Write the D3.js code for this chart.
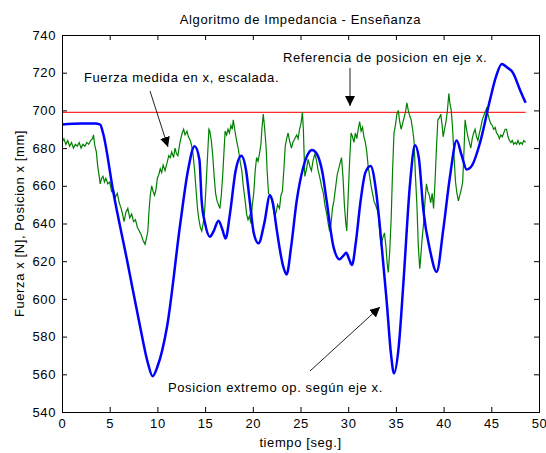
<!DOCTYPE html>
<html>
<head>
<meta charset="utf-8">
<script src="https://cdn.jsdelivr.net/npm/d3@7"></script>
<style>
  body { margin: 0; background: #fff; }
  text { font-family: "Liberation Sans", Arial, sans-serif; font-size: 13px; letter-spacing: 0.6px; fill: #000; }
</style>
</head>
<body>
<script>
// posicion extremo op. (azul)
var posicion = [
  [0, 692.5], [2, 693], [3.5, 693], [4.0, 692.5], [4.3, 688], [5.4, 656], [6.8, 621], [8.2, 585],
  [9.0, 566], [9.5, 559], [10.0, 564], [11.0, 585], [12.4, 640], [13.2, 668], [13.9, 681], [14.4, 674],
  [14.64, 652], [15.0, 640], [15.5, 633], [15.9, 636], [16.4, 641.5], [16.8, 637], [17.15, 632],
  [17.6, 645], [18.2, 668], [18.8, 676], [19.3, 668], [19.7, 651], [20.1, 635], [20.6, 629.5],
  [21.2, 640], [21.8, 655], [22.1, 651], [22.5, 637], [23.2, 617], [23.55, 613], [24.0, 627],
  [24.6, 652], [25.3, 670], [25.8, 677], [26.2, 679], [26.7, 677], [27.3, 667], [27.74, 652],
  [28.44, 628], [29.1, 621], [29.5, 623], [29.8, 624.5], [30.1, 621], [30.4, 618], [30.8, 630],
  [31.3, 652], [31.8, 667], [32.35, 670.5], [32.9, 658], [33.33, 638], [34.03, 599], [34.5, 570],
  [34.8, 560.5], [35.3, 575], [35.78, 608], [36.48, 661], [37.0, 681.5], [37.4, 675], [37.88, 647],
  [38.57, 626], [39.27, 614.4], [39.97, 637], [40.67, 665], [41.37, 684], [41.9, 676], [42.42, 668.7],
  [43.0, 671], [43.8, 682.5], [44.86, 705.5], [45.5, 718], [46.1, 724.6], [46.6, 723], [47.3, 719.7],
  [48.0, 711], [48.6, 704]
];

// fuerza medida en x, escalada (verde)
var fuerza = [
  [0.0, 683], [0.2, 685], [0.4, 682], [0.6, 684], [0.8, 681], [1.0, 683], [1.2, 680], [1.4, 682],
  [1.6, 681], [1.8, 683], [2.0, 680], [2.2, 682], [2.4, 681], [2.6, 683], [2.8, 682], [3.0, 684],
  [3.2, 685], [3.3, 687], [3.45, 681], [3.6, 678], [3.75, 670], [3.9, 665], [4.0, 661], [4.15, 664],
  [4.3, 665], [4.45, 662], [4.6, 664], [4.8, 661], [5.0, 662], [5.2, 657], [5.4, 658], [5.6, 654],
  [5.8, 656], [6.0, 651], [6.2, 648], [6.35, 645], [6.5, 641], [6.7, 646], [6.9, 648], [7.1, 643],
  [7.3, 645], [7.5, 641], [7.7, 642], [7.9, 638], [8.1, 636], [8.3, 634], [8.5, 631], [8.7, 629],
  [8.85, 632], [9.0, 636], [9.1, 645], [9.25, 655], [9.4, 660], [9.55, 657], [9.7, 655], [9.85, 658],
  [10.0, 664], [10.15, 666], [10.3, 669], [10.45, 667], [10.6, 671], [10.8, 668], [11.0, 672],
  [11.2, 676], [11.35, 675], [11.5, 678], [11.7, 675], [11.85, 680], [12.0, 677], [12.15, 676],
  [12.3, 681], [12.45, 685], [12.6, 688], [12.75, 690], [12.9, 687], [13.1, 689], [13.25, 686],
  [13.45, 684], [13.6, 681], [13.75, 676], [13.9, 668], [14.05, 658], [14.2, 648], [14.35, 642],
  [14.5, 638], [14.65, 636], [14.8, 640], [14.95, 646], [15.1, 660], [15.25, 675], [15.4, 690],
  [15.5, 689], [15.65, 684], [15.8, 676], [15.95, 665], [16.1, 656], [16.25, 652], [16.4, 650],
  [16.55, 648], [16.7, 655], [16.85, 666], [17.0, 680], [17.1, 689], [17.25, 687], [17.4, 690],
  [17.55, 688], [17.7, 692], [17.85, 690], [17.95, 695], [18.1, 690], [18.3, 684], [18.5, 679],
  [18.7, 672], [18.85, 668], [19.0, 660], [19.2, 652], [19.35, 645], [19.5, 642], [19.65, 644],
  [19.8, 640], [19.95, 650], [20.1, 656], [20.25, 668], [20.4, 675], [20.55, 673], [20.7, 677],
  [20.85, 682], [20.95, 690], [21.1, 698], [21.25, 690], [21.4, 680], [21.5, 668], [21.65, 656],
  [21.8, 655], [22.0, 652], [22.15, 648], [22.3, 644], [22.45, 646], [22.6, 650], [22.8, 648],
  [22.95, 655], [23.1, 657], [23.25, 668], [23.4, 681], [23.55, 685], [23.7, 688], [23.85, 684],
  [24.05, 680], [24.2, 683], [24.4, 685], [24.6, 687], [24.75, 685], [24.9, 690], [25.05, 693],
  [25.2, 699], [25.3, 690], [25.45, 665], [25.6, 668], [25.8, 674], [26.0, 670], [26.15, 668],
  [26.3, 673], [26.5, 677], [26.65, 674], [26.85, 668], [27.0, 665], [27.2, 660], [27.4, 656],
  [27.55, 650], [27.75, 645], [27.9, 640], [28.05, 636], [28.2, 640], [28.35, 648], [28.5, 652],
  [28.7, 660], [28.85, 666], [29.0, 669], [29.15, 672], [29.3, 675], [29.45, 665], [29.6, 650],
  [29.75, 640], [29.85, 636], [30.0, 655], [30.15, 673], [30.3, 688], [30.45, 686], [30.6, 683],
  [30.75, 688], [30.9, 685], [31.05, 690], [31.2, 694], [31.35, 689], [31.5, 691], [31.65, 686],
  [31.8, 683], [31.95, 678], [32.1, 670], [32.25, 665], [32.4, 660], [32.55, 656], [32.7, 652],
  [32.85, 650], [33.0, 648], [33.15, 645], [33.3, 636], [33.45, 628], [33.6, 632], [33.8, 635],
  [33.95, 628], [34.1, 618], [34.2, 614], [34.35, 625], [34.5, 642], [34.65, 668], [34.8, 688],
  [34.95, 692], [35.1, 698], [35.25, 700], [35.4, 694], [35.55, 690], [35.7, 693], [35.85, 696],
  [36.0, 699], [36.15, 704], [36.3, 700], [36.45, 697], [36.6, 695], [36.75, 690], [36.9, 684],
  [37.05, 665], [37.2, 650], [37.35, 628], [37.5, 616], [37.6, 622], [37.75, 632], [37.9, 640],
  [38.05, 652], [38.2, 661], [38.35, 657], [38.5, 655], [38.65, 651], [38.8, 656], [38.95, 648],
  [39.1, 662], [39.25, 680], [39.4, 695], [39.55, 696], [39.7, 698], [39.85, 692], [39.95, 686],
  [40.1, 690], [40.25, 694], [40.4, 700], [40.55, 709], [40.65, 704], [40.8, 700], [40.95, 690],
  [41.1, 675], [41.25, 662], [41.4, 656], [41.55, 652], [41.7, 655], [41.85, 658], [42.0, 662],
  [42.15, 680], [42.25, 695], [42.4, 690], [42.55, 686], [42.7, 683], [42.85, 680], [43.0, 685],
  [43.15, 688], [43.3, 690], [43.45, 686], [43.6, 684], [43.75, 688], [43.9, 691], [44.05, 695],
  [44.2, 697], [44.35, 699], [44.5, 701], [44.65, 698], [44.8, 695], [44.95, 693], [45.1, 692],
  [45.25, 690], [45.4, 691], [45.55, 688], [45.7, 687], [45.85, 685], [46.0, 687], [46.15, 686],
  [46.3, 688], [46.45, 690], [46.6, 690], [46.75, 686], [46.9, 684], [47.05, 683], [47.2, 684],
  [47.35, 682], [47.5, 683], [47.65, 682], [47.8, 684], [47.95, 682], [48.1, 683], [48.25, 682],
  [48.4, 684], [48.6, 683]
];

// referencia (rojo)
var referencia = [[0, 699], [48.6, 699]];

var xTicks = [0, 5, 10, 15, 20, 25, 30, 35, 40, 45, 50];
var yTicks = [540, 560, 580, 600, 620, 640, 660, 680, 700, 720, 740];

window.onload = setChart;

function setChart(){

    var width = 546,
        height = 453;

    var left = 62, right = 539, top = 35, bottom = 412;

    var svg = d3.select("body")
        .append("svg")
        .attr("width", width)
        .attr("height", height);

    var x = d3.scaleLinear().domain([0, 50]).range([left, right]);
    var y = d3.scaleLinear().domain([540, 740]).range([bottom, top]);

    var defs = svg.append("defs");
    defs.append("clipPath").attr("id", "clip")
        .append("rect")
        .attr("x", left).attr("y", top)
        .attr("width", right - left).attr("height", bottom - top);
    defs.append("marker")
        .attr("id", "head")
        .attr("viewBox", "0 0 10 10")
        .attr("refX", 10).attr("refY", 5)
        .attr("markerWidth", 10).attr("markerHeight", 10)
        .attr("markerUnits", "userSpaceOnUse")
        .attr("orient", "auto")
        .append("path")
        .attr("d", "M0,0L10,5L0,10Z")
        .attr("fill", "#000");

    var line = d3.line()
        .x(function(d){ return x(d[0]); })
        .y(function(d){ return y(d[1]); });

    var plot = svg.append("g").attr("clip-path", "url(#clip)");

    plot.append("path")
        .datum(referencia)
        .attr("d", line)
        .attr("fill", "none")
        .attr("stroke", "#ff2a2a")
        .attr("stroke-width", 1.2);

    plot.append("path")
        .datum(fuerza)
        .attr("d", line)
        .attr("fill", "none")
        .attr("stroke", "#008000")
        .attr("stroke-width", 1.2);

    plot.append("path")
        .datum(posicion)
        .attr("d", line.curve(d3.curveMonotoneX))
        .attr("fill", "none")
        .attr("stroke", "#0000ff")
        .attr("stroke-width", 2.5);

    // ejes (caja con marcas hacia dentro)
    var tick = 5;
    svg.append("g")
        .attr("transform", "translate(0," + bottom + ")")
        .call(d3.axisBottom(x).tickValues(xTicks).tickSize(-tick).tickPadding(7).tickFormat(d3.format("d")));
    svg.append("g")
        .attr("transform", "translate(0," + top + ")")
        .call(d3.axisTop(x).tickValues(xTicks).tickSize(-tick).tickFormat(""));
    svg.append("g")
        .attr("transform", "translate(" + left + ",0)")
        .call(d3.axisLeft(y).tickValues(yTicks).tickSize(-tick).tickPadding(6).tickFormat(d3.format("d")));
    svg.append("g")
        .attr("transform", "translate(" + right + ",0)")
        .call(d3.axisRight(y).tickValues(yTicks).tickSize(-tick).tickFormat(""));

    svg.selectAll(".domain").attr("stroke", "#000");
    svg.selectAll(".tick line").attr("stroke", "#000");
    svg.selectAll(".tick text")
        .style("font-family", "'Liberation Sans', Arial, sans-serif")
        .style("font-size", "13px")
        .attr("fill", "#000");

    // titulos
    svg.append("text")
        .attr("x", (left + right) / 2).attr("y", 24)
        .attr("text-anchor", "middle")
        .text("Algoritmo de Impedancia - Enseñanza");

    svg.append("text")
        .attr("x", (left + right) / 2).attr("y", 447)
        .attr("text-anchor", "middle")
        .text("tiempo [seg.]");

    svg.append("text")
        .attr("transform", "translate(24," + (top + bottom) / 2 + ") rotate(-90)")
        .attr("text-anchor", "middle")
        .text("Fuerza x [N], Posicion x [mm]");

    // anotaciones
    svg.append("text").attr("x", 283).attr("y", 62).text("Referencia de posicion en eje x.");
    svg.append("text").attr("x", 84).attr("y", 82).text("Fuerza medida en x, escalada.");
    svg.append("text").attr("x", 168).attr("y", 392).text("Posicion extremo op. según eje x.");

    var arrows = [
        [350, 68, 350, 106],
        [150, 91, 168, 147],
        [310, 371, 380, 307]
    ];
    svg.selectAll(".arrow")
        .data(arrows)
        .enter()
        .append("line")
        .attr("class", "arrow")
        .attr("x1", function(d){ return d[0]; })
        .attr("y1", function(d){ return d[1]; })
        .attr("x2", function(d){ return d[2]; })
        .attr("y2", function(d){ return d[3]; })
        .attr("stroke", "#222")
        .attr("stroke-width", 1)
        .attr("marker-end", "url(#head)");
}
</script>
</body>
</html>
